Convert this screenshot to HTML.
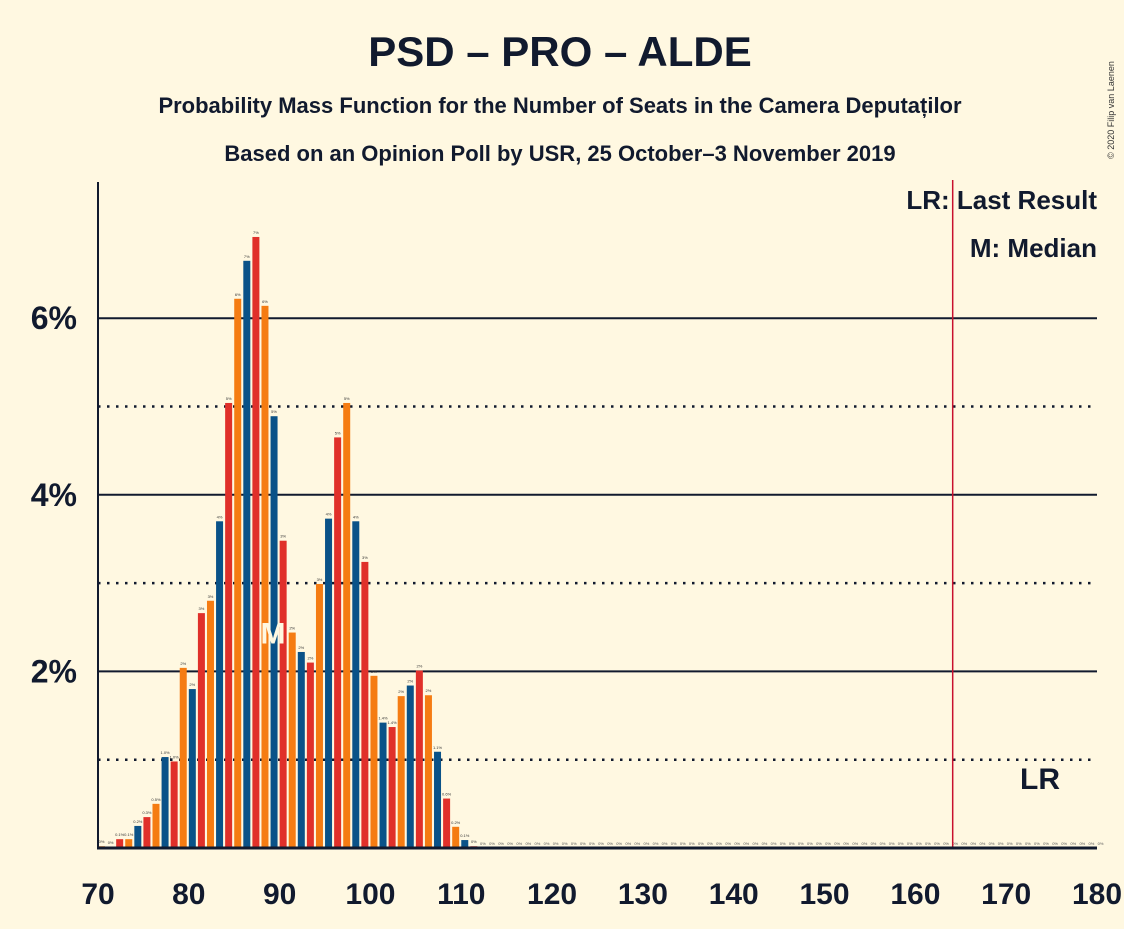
<!DOCTYPE html>
<html><head><meta charset="utf-8"><style>
body{margin:0;background:#fff8e1;}
svg text{font-family:"Liberation Sans",sans-serif;}
</style></head><body>
<svg width="1124" height="924" xmlns="http://www.w3.org/2000/svg">
<rect width="1124" height="924" fill="#fff8e1"/>
<text x="560" y="66" text-anchor="middle" font-size="42" font-weight="bold" fill="#111a2e">PSD – PRO – ALDE</text>
<text x="560" y="113" text-anchor="middle" font-size="22" font-weight="bold" fill="#111a2e">Probability Mass Function for the Number of Seats in the Camera Deputaților</text>
<text x="560" y="161" text-anchor="middle" font-size="22" font-weight="bold" fill="#111a2e">Based on an Opinion Poll by USR, 25 October–3 November 2019</text>
<text x="1114" y="110" font-size="9" fill="#333" transform="rotate(-90 1114 110)" text-anchor="middle">© 2020 Filip van Laenen</text>
<g id="grid"></g>
<g id="bars"></g>
<g id="axes"></g>
<text x="1097" y="209" text-anchor="end" font-size="26" font-weight="bold" fill="#111a2e">LR: Last Result</text>
<text x="1097" y="257" text-anchor="end" font-size="26" font-weight="bold" fill="#111a2e">M: Median</text>
</svg>
<script>
const seats=[70,71,72,73,74,75,76,77,78,79,80,81,82,83,84,85,86,87,88,89,90,91,92,93,94,95,96,97,98,99,100,101,102,103,104,105,106,107,108,109,110,111];
const probs=[0.02,0.01,0.1,0.1,0.25,0.35,0.5,1.03,0.98,2.04,1.8,2.66,2.8,3.7,5.04,6.22,6.65,6.92,6.14,4.89,3.48,2.44,2.22,2.1,2.99,3.73,4.65,5.04,3.7,3.24,1.95,1.42,1.37,1.72,1.84,2.01,1.73,1.09,0.56,0.24,0.09,0.02];
const labels=["0%","0%","0.1%","0.1%","0.2%","0.3%","0.5%","1.0%","1.0%","2%","2%","3%","3%","4%","5%","6%","7%","7%","6%","5%","3%","2%","2%","2%","3%","4%","5%","5%","4%","3%","2%","1.4%","1.4%","2%","2%","2%","2%","1.1%","0.6%","0.2%","0.1%","0%"];
const yTicks=[2,4,6];
const yMinor=[1,3,5];
const xTicks=[70,80,90,100,110,120,130,140,150,160,170,180];
const median=89, lastResult=164;
const NS="http://www.w3.org/2000/svg";
const X0=98,X1=1097,Y0=848,PX=88.3,OFF=3.5;
const xs=s=>X0+(s-70)*(X1-X0)/110;
const ys=p=>Y0-p*PX;
function mk(t,a,p){const e=document.createElementNS(NS,t);for(const k in a)e.setAttribute(k,a[k]);p.appendChild(e);return e;}
const grid=document.getElementById('grid'),bars=document.getElementById('bars'),axes=document.getElementById('axes');
yMinor.forEach(v=>{const l=mk('line',{x1:X0,x2:X1,y1:ys(v),y2:ys(v),stroke:'#111a2e','stroke-width':2.5,'stroke-dasharray':'2.5,6.5'},grid);

});
yTicks.forEach(v=>{const l=mk('line',{x1:X0,x2:X1,y1:ys(v),y2:ys(v),stroke:'#111a2e','stroke-width':2},grid);


const t=mk('text',{x:77,y:ys(v)+11,'text-anchor':'end','font-size':32,'font-weight':'bold',fill:'#111a2e'},axes);t.textContent=v+'%';

});
const cols={0:'#e0302a',1:'#f57c12',2:'#0a5288'};
seats.forEach((s,i)=>{const p=probs[i];const b=mk('rect',{x:xs(s)+OFF-3.5,y:ys(p),width:7,height:p*PX,fill:cols[s%3]},bars);


const t=mk('text',{x:xs(s)+OFF,y:ys(p)-3,'text-anchor':'middle','font-size':4,fill:'#333'},bars);t.textContent=labels[i];

});
for(let s=112;s<=180;s++){const t=mk('text',{x:xs(s)+OFF,y:Y0-3,'text-anchor':'middle','font-size':4,fill:'#555'},bars);t.textContent='0%';

}
const m=mk('text',{x:xs(median)+OFF-1,y:ys(2.45)+12,'text-anchor':'middle','font-size':30,'font-weight':'bold',fill:'#fff8e1'},bars);m.textContent='M';


const lr=mk('line',{x1:xs(lastResult)+1,x2:xs(lastResult)+1,y1:180,y2:Y0,stroke:'#c8102e','stroke-width':1.5},axes);


const lrt=mk('text',{x:1040,y:789,'text-anchor':'middle','font-size':30,'font-weight':'bold',fill:'#111a2e'},axes);lrt.textContent='LR';


const ya=mk('line',{x1:X0,x2:X0,y1:182,y2:Y0+1,stroke:'#111a2e','stroke-width':2},axes);


const xa=mk('line',{x1:X0-1,x2:X1,y1:Y0,y2:Y0,stroke:'#111a2e','stroke-width':3},axes);


xTicks.forEach(v=>{const t=mk('text',{x:xs(v),y:904,'text-anchor':'middle','font-size':30,'font-weight':'bold',fill:'#111a2e'},axes);t.textContent=v;

});
</script>
</body></html>
